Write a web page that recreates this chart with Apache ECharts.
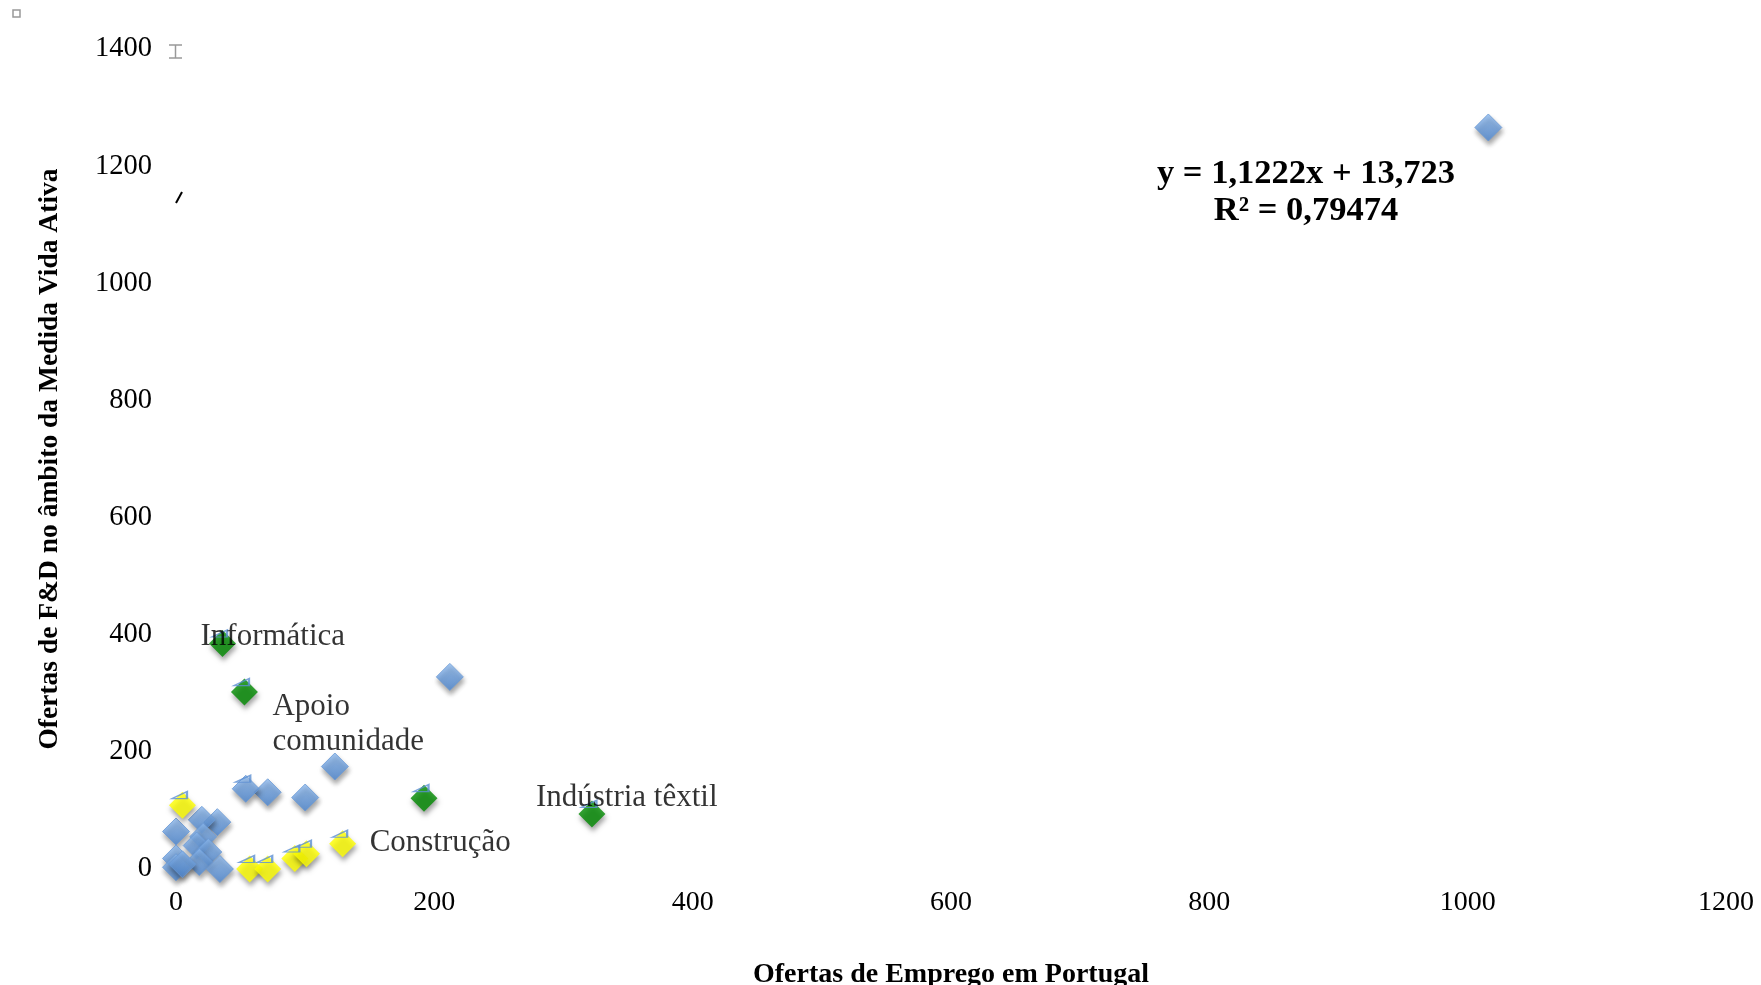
<!DOCTYPE html>
<html><head><meta charset="utf-8">
<script src="https://cdn.jsdelivr.net/npm/echarts@6/dist/echarts.min.js"></script>
<style>html,body{margin:0;padding:0;background:#fff}#c{width:1761px;height:985px}</style>
</head><body><div id="c"></div>
<script>
// Data
const blueSeries = [[1016,1266],[212,328],[123,175],[100,122],[71,131],[54,137],[32,80],[20,84],[0,64],[21,55],[16,40],[25,29],[0,18],[18,12],[0,3],[34,0],[5,8]];
const yellowSeries = [[5,109],[57,0],[71,0],[92,18],[101,26],[129,43]];
const greenSeries = [[36,385],[53,302],[192,121],[322,94]];
const triangleMarks = [[54,137],[5,109],[57,0],[71,0],[92,18],[101,26],[129,43],[36,385],[53,302],[192,121],[322,94]];
const xTicks = [0,200,400,600,800,1000,1200];
const yTicks = [0,200,400,600,800,1000,1200,1400];
const labels = [
  {text:'Informática', x:36, y:385},
  {text:'Apoio\ncomunidade', x:53, y:302},
  {text:'Indústria têxtil', x:322, y:94},
  {text:'Construção', x:129, y:43}
];
const equationLines = ['y = 1,1222x + 13,723', 'R² = 0,79474'];

const chart = echarts.init(document.getElementById('c'));
const serif = '"Liberation Serif", "DejaVu Serif", serif';
const shadow = {shadowBlur:5, shadowColor:'rgba(0,0,0,0.45)', shadowOffsetX:1, shadowOffsetY:4};
const blueFill = new echarts.graphic.LinearGradient(0,0,0,1,[{offset:0,color:'#8fbbef'},{offset:1,color:'#4f8ad6'}]);
const labelOffsets = {'Informática':[-22,-7],'Apoio\ncomunidade':[28,32],'Indústria têxtil':[-56,-16],'Construção':[27,-1]};
const option = {
  animation:false,
  grid:{left:176, right:35, top:49, bottom:116, containLabel:false, outerBoundsMode:'none'},
  xAxis:{type:'value', min:xTicks[0], max:xTicks[xTicks.length-1], interval:200,
    name:'Ofertas de Emprego em Portugal', nameLocation:'middle', nameGap:92,
    nameTextStyle:{fontFamily:serif, fontSize:28, fontWeight:'bold', color:'#000'},
    axisLine:{show:false}, axisTick:{show:false}, splitLine:{show:false},
    axisLabel:{fontFamily:serif, fontSize:28, color:'#000', margin:20, formatter:v=>String(v)}},
  yAxis:{type:'value', min:yTicks[0], max:yTicks[yTicks.length-1], interval:200,
    name:'Ofertas de F&D no âmbito da Medida Vida Ativa', nameLocation:'middle', nameGap:112,
    nameTextStyle:{fontFamily:serif, fontSize:27.5, fontWeight:'bold', color:'#000'},
    axisLine:{show:false}, axisTick:{show:false}, splitLine:{show:false},
    axisLabel:{fontFamily:serif, fontSize:28.5, color:'#000', margin:24, formatter:v=>String(v)}},
  series:[
    {type:'scatter', data:blueSeries, symbol:'diamond', symbolSize:27,
      itemStyle:Object.assign({color:blueFill, borderColor:'#6a9ad6', borderWidth:1}, shadow)},
    {type:'scatter', data:yellowSeries, symbol:'diamond', symbolSize:27,
      itemStyle:Object.assign({color:'#ffff00'}, shadow)},
    {type:'scatter', data:greenSeries, symbol:'diamond', symbolSize:27,
      itemStyle:Object.assign({color:'#008a00'}, shadow)},
    {type:'scatter', data:triangleMarks, symbol:'path://M0,7 L15,0 L15,7 Z', symbolSize:[15,7],
      symbolOffset:[-3,-10], z:5,
      itemStyle:{color:'rgba(0,0,0,0)', borderColor:'#5b8fd2', borderWidth:1.6}},
    {type:'scatter', symbolSize:0, z:6,
      data:labels.map(l=>({value:[l.x,l.y], name:l.text,
        label:{position:labelOffsets[l.text]}})),
      label:{show:true, formatter:p=>p.name, fontFamily:serif, fontSize:31, color:'#000', lineHeight:35,
        align:'left', verticalAlign:'middle', textBorderWidth:0}}
  ],
  graphic:[
    {type:'text', x:1306, y:174, style:{text:equationLines[0], fontFamily:serif, fontSize:34.5, fontWeight:'bold', fill:'#000', align:'center', verticalAlign:'middle'}},
    {type:'text', x:1306, y:211, style:{text:equationLines[1], fontFamily:serif, fontSize:34.5, fontWeight:'bold', fill:'#000', align:'center', verticalAlign:'middle'}},
    {type:'rect', shape:{x:13,y:10,width:7,height:7}, style:{fill:'#fff', stroke:'#999', lineWidth:1.5}},
    {type:'polyline', shape:{points:[[169,45],[182,45]]}, style:{stroke:'#999', lineWidth:1.5}},
    {type:'polyline', shape:{points:[[169,58],[182,58]]}, style:{stroke:'#999', lineWidth:1.5}},
    {type:'polyline', shape:{points:[[175.5,45],[175.5,58]]}, style:{stroke:'#999', lineWidth:1.5}},
    {type:'polyline', shape:{points:[[176,203],[182,192]]}, style:{stroke:'#000', lineWidth:2}}
  ]
};
chart.setOption(option);
</script></body></html>
